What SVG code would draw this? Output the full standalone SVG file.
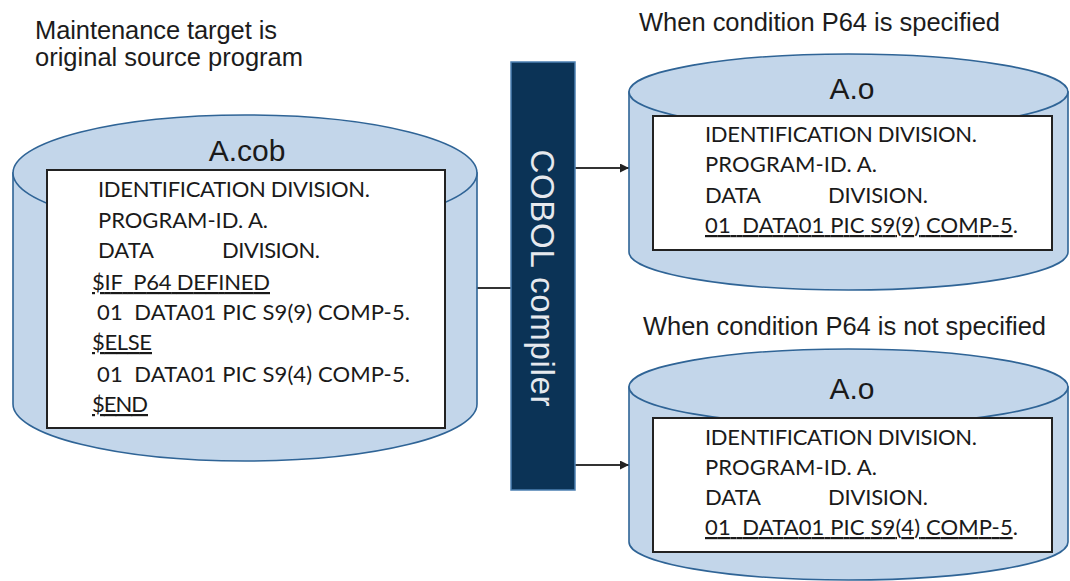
<svg xmlns="http://www.w3.org/2000/svg" width="1070" height="581" viewBox="0 0 1070 581">
  <style>
    .caption { font-family: "Liberation Sans", Arial, sans-serif; font-size: 25.5px; fill: #1c1c1c; }
    .title { font-family: "Liberation Sans", Arial, sans-serif; font-size: 30px; fill: #1a1a1a; text-anchor: middle; }
    .code { font-family: Lato, "Open Sans", sans-serif; font-size: 22px; fill: #1a1a1a; white-space: pre; }
    .u { text-decoration: underline; }
    .drum { fill: #c3d6ea; stroke: #2f6496; stroke-width: 1.6; }
    .sheet { fill: #ffffff; stroke: #222222; stroke-width: 2; }
    .link { fill: none; stroke: #333333; stroke-width: 2; }
    .compiler { fill: #0b3356; stroke: #4c80b2; stroke-width: 1.5; }
    .compiler-label { font-family: "Liberation Sans", Arial, sans-serif; font-size: 33px; fill: #e6e9ee; text-anchor: middle; }
  </style>
  <defs>
    <marker id="head" viewBox="0 0 10 10" refX="10" refY="5" markerWidth="4.5" markerHeight="4.5" orient="auto" markerUnits="strokeWidth">
      <path d="M0,0 L10,5 L0,10 Z" fill="#222222"/>
    </marker>
  </defs>

  <!-- captions -->
  <g id="caption-source">
    <text class="caption" x="35" y="39" textLength="242">Maintenance target is</text>
    <text class="caption" x="35" y="66" textLength="268">original source program</text>
  </g>
  <g id="caption-p64">
    <text class="caption" x="639" y="31" textLength="361">When condition P64 is specified</text>
  </g>
  <g id="caption-no-p64">
    <text class="caption" x="643" y="335" textLength="403">When condition P64 is not specified</text>
  </g>

  <!-- connectors -->
  <g id="connectors">
    <line class="link" x1="477" y1="288" x2="511" y2="288"/>
    <line class="link" x1="575" y1="168" x2="629" y2="168" marker-end="url(#head)"/>
    <line class="link" x1="575" y1="465" x2="629" y2="465" marker-end="url(#head)"/>
  </g>

  <!-- source program A.cob -->
  <g id="source-cob">
    <path class="drum" d="M13,173 L13,404 A232,57 0 0 0 477,404 L477,173 Z"/>
    <ellipse class="drum" cx="245" cy="173" rx="232" ry="58"/>
    <text class="title" x="247" y="161">A.cob</text>
    <rect class="sheet" x="47" y="170" width="398" height="258"/>
    <text class="code" x="98" y="197" textLength="272">IDENTIFICATION DIVISION.</text>
    <text class="code" x="98" y="228" textLength="170">PROGRAM-ID. A.</text>
    <text class="code" x="98" y="258">DATA</text>
    <text class="code" x="222" y="258" textLength="98">DIVISION.</text>
    <text class="code u" x="92" y="290" textLength="178">$IF  P64 DEFINED</text>
    <text class="code" x="97" y="320" textLength="313">01  DATA01 PIC S9(9) COMP-5.</text>
    <text class="code u" x="92" y="350" textLength="60">$ELSE</text>
    <text class="code" x="97" y="382" textLength="313">01  DATA01 PIC S9(4) COMP-5.</text>
    <text class="code u" x="92" y="412" textLength="56">$END</text>
  </g>

  <!-- compiler -->
  <g id="cobol-compiler">
    <rect class="compiler" x="511" y="62" width="64" height="428"/>
    <text class="compiler-label" transform="translate(531,278) rotate(90)" x="0" y="0" textLength="257">COBOL compiler</text>
  </g>

  <!-- object A.o, P64 specified -->
  <g id="object-p64">
    <path class="drum" d="M629,92 L629,252 A219.5,38 0 0 0 1068,252 L1068,92 Z"/>
    <ellipse class="drum" cx="848.5" cy="92" rx="219.5" ry="38"/>
    <text class="title" x="852" y="99">A.o</text>
    <rect class="sheet" x="653" y="116" width="399" height="134"/>
    <text class="code" x="705" y="142" textLength="272">IDENTIFICATION DIVISION.</text>
    <text class="code" x="705" y="172" textLength="172">PROGRAM-ID. A.</text>
    <text class="code" x="705" y="203">DATA</text>
    <text class="code" x="828" y="203" textLength="100">DIVISION.</text>
    <text class="code" x="705" y="233" textLength="313"><tspan class="u">01  DATA01 PIC S9(9) COMP-5</tspan>.</text>
  </g>

  <!-- object A.o, P64 not specified -->
  <g id="object-no-p64">
    <path class="drum" d="M629,387 L629,542 A219.5,38 0 0 0 1068,542 L1068,387 Z"/>
    <ellipse class="drum" cx="848.5" cy="387" rx="219.5" ry="38"/>
    <text class="title" x="852" y="399">A.o</text>
    <rect class="sheet" x="653" y="418" width="399" height="134"/>
    <text class="code" x="705" y="445" textLength="272">IDENTIFICATION DIVISION.</text>
    <text class="code" x="705" y="475" textLength="172">PROGRAM-ID. A.</text>
    <text class="code" x="705" y="505">DATA</text>
    <text class="code" x="828" y="505" textLength="100">DIVISION.</text>
    <text class="code" x="705" y="535" textLength="313"><tspan class="u">01  DATA01 PIC S9(4) COMP-5</tspan>.</text>
  </g>
</svg>
